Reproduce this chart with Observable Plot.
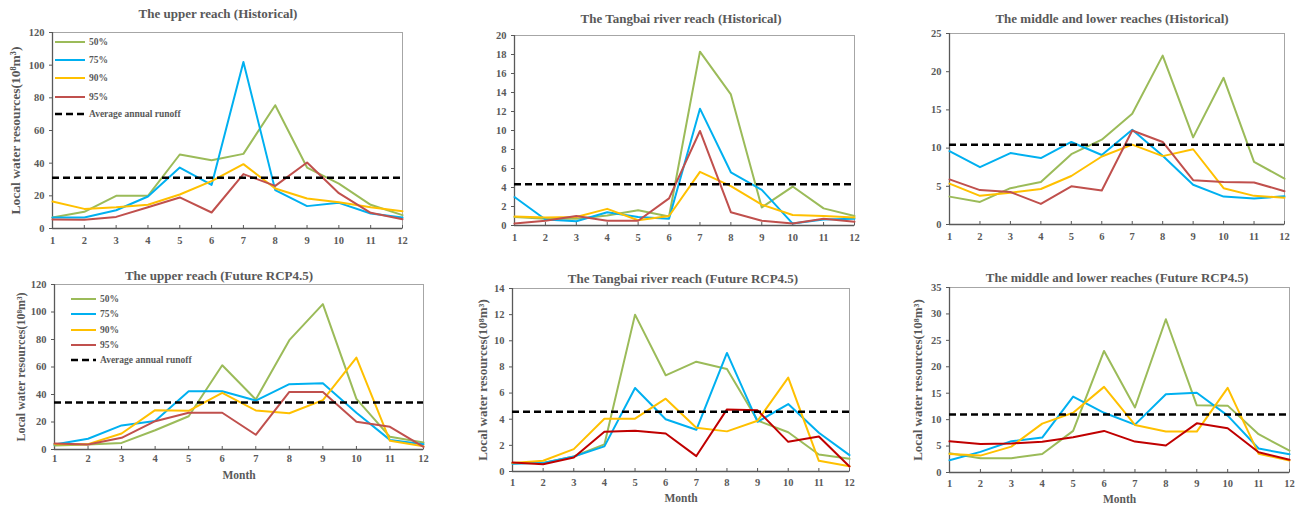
<!DOCTYPE html>
<html><head><meta charset="utf-8">
<script src="https://cdn.jsdelivr.net/npm/d3@7"></script>
<script src="https://cdn.jsdelivr.net/npm/@observablehq/plot@0.6"></script>
<style>
body{margin:0;background:#fff;}
#root{position:relative;width:1304px;height:508px;overflow:hidden;font-family:"Liberation Serif","Times New Roman",serif;font-weight:bold;color:#595959;background:#fff;}
.box{position:absolute;}
.box svg{max-width:none !important;}
.title{position:absolute;font-size:13px;white-space:nowrap;transform:translate(-50%,-50%);}
.lg{position:absolute;font-size:9.5px;white-space:nowrap;display:flex;align-items:center;transform:translateY(-50%);}
.lg svg{margin-right:4px;}
</style>
</head><body><div id="root"></div>
<script>
const months = [1,2,3,4,5,6,7,8,9,10,11,12];
const seriesNames = ["50%","75%","90%","95%"];
const avgName = "Average annual runoff";
const yLabel = "Local water resources(10⁸m³)";
const xLabel = "Month";

// The upper reach (Historical)
const uh50 = [6.7,10.2,20,20,45.3,41.8,45.7,75.5,37.3,27.5,14.5,8.2];
const uh75 = [6.7,6.7,11.2,19.6,37.3,26.7,102,23.5,13.7,15.7,9.2,6.7];
const uh90 = [16.5,12,13,14.5,20.8,29,39.4,24.5,18.4,16.1,13,10.6];
const uh95 = [5.5,5.3,7.1,13,19,9.8,33.3,26.1,40.4,21.6,9.6,5.7];
const uhAvg = 31;
// The Tangbai river reach (Historical)
const th50 = [0.9,0.7,0.7,1.05,1.6,0.95,18.3,13.8,1.9,4.1,1.8,1.0];
const th75 = [3.0,0.63,0.45,1.4,0.9,0.7,12.3,5.6,3.75,0.2,0.63,0.7];
const th90 = [0.95,0.85,0.9,1.75,0.55,1.0,5.65,4.15,2.2,1.1,1.0,0.85];
const th95 = [0.2,0.5,1.0,0.5,0.5,2.85,9.95,1.4,0.5,0.2,0.7,0.4];
const thAvg = 4.35;
// The middle and lower reaches (Historical)
const mh50 = [3.65,2.95,4.75,5.55,9.2,11.1,14.5,22.1,11.4,19.2,8.2,6.0];
const mh75 = [9.6,7.5,9.35,8.7,10.8,9.1,12.4,9.0,5.2,3.65,3.4,3.7];
const mh90 = [5.35,3.75,4.15,4.65,6.35,8.9,10.45,8.95,9.85,4.75,3.75,3.5];
const mh95 = [5.9,4.5,4.25,2.7,5.0,4.45,12.3,10.8,5.8,5.55,5.5,4.35];
const mhAvg = 10.45;
// The upper reach (Future RCP4.5)
const uf50 = [2.9,3.6,4.8,14,24.2,61.3,36.4,79.5,105.7,36.8,9.2,5.1];
const uf75 = [3.6,7.8,17.5,20.8,42.4,42.4,35.6,47.5,48.2,26.7,7,3.9];
const uf90 = [3.9,3.9,11.6,28.6,28.1,41.2,28.4,26.4,35.9,66.9,6.3,2.4];
const uf95 = [4.4,3.6,8.5,20.6,26.7,26.7,10.7,41.9,41.9,20.1,16.5,1.9];
const ufAvg = 34.2;
// The Tangbai river reach (Future RCP4.5)
const tf50 = [0.64,0.66,1.15,2.07,12.0,7.36,8.4,7.84,3.9,3.0,1.3,0.97];
const tf75 = [0.59,0.66,1.15,1.92,6.39,4.0,3.19,9.07,3.8,5.16,2.96,1.25];
const tf90 = [0.66,0.82,1.71,4.04,4.04,5.57,3.35,3.07,3.88,7.18,0.82,0.41];
const tf95 = [0.69,0.56,1.07,3.04,3.12,2.91,1.18,4.75,4.68,2.27,2.68,0.38];
const tfAvg = 4.57;
// The middle and lower reaches (Future RCP4.5)
const mf50 = [3.65,2.7,2.7,3.5,7.87,23.0,12.3,29.0,12.7,12.65,7.24,4.15];
const mf75 = [2.33,3.9,5.9,6.6,14.35,11.3,9.06,14.8,15.1,10.76,4.53,3.46];
const mf90 = [3.52,3.2,4.9,9.25,11.3,16.2,9.0,7.74,7.74,16.0,3.52,2.27];
const mf95 = [5.9,5.4,5.5,5.8,6.67,7.87,5.85,5.1,9.3,8.37,3.84,2.4];
const mfAvg = 10.95;

const C50 = "#9BBB59", C75 = "#00B0F0", C90 = "#FFC000", C95 = "#C0504D", C95b = "#C00000";

const panels = [
  {title:"The upper reach (Historical)", tx:218, ty:14, x0:52, x1:402, y0:32, y1:228, ymax:120, yt:d3.range(0,121,20), s:[uh50,uh75,uh90,uh95], avg:uhAvg, c95:C95, ylab:37, yfs:13.5, tp:8, month:false, legend:{lx0:55, lx1:85, tx:89, rows:[42,60,78,97,114]}},
  {title:"The Tangbai river reach (Historical)", tx:681, ty:19, x0:514, x1:854, y0:35, y1:225, ymax:20, yt:d3.range(0,21,2), s:[th50,th75,th90,th95], avg:thAvg, c95:C95, ylab:null, tp:8, month:false},
  {title:"The middle and lower reaches (Historical)", tx:1112, ty:19, x0:949, x1:1284, y0:33, y1:224, ymax:25, yt:d3.range(0,26,5), s:[mh50,mh75,mh90,mh95], avg:mhAvg, c95:C95, ylab:null, tp:8, month:false},
  {title:"The upper reach (Future RCP4.5)", tx:219, ty:276, x0:54, x1:423, y0:284, y1:449, ymax:120, yt:d3.range(0,121,20), s:[uf50,uf75,uf90,uf95], avg:ufAvg, c95:C95, ylab:33, yfs:12, tp:5, month:26, legend:{lx0:71, lx1:97, tx:100, rows:[299,314,330,345,360]}},
  {title:"The Tangbai river reach (Future RCP4.5)", tx:683, ty:279, x0:512, x1:849, y0:288, y1:471, ymax:14, yt:d3.range(0,15,2), s:[tf50,tf75,tf90,tf95], avg:tfAvg, c95:C95b, ylab:30, yfs:13, tp:7, month:27},
  {title:"The middle and lower reaches (Future RCP4.5)", tx:1117, ty:278, x0:949, x1:1289, y0:287, y1:472, ymax:35, yt:d3.range(0,36,5), s:[mf50,mf75,mf90,mf95], avg:mfAvg, c95:C95b, ylab:32, yfs:13, tp:7, month:27}
];

const root = document.getElementById("root");
const ml=50, mr=12, mt=10, mb=36;

for (const p of panels) {
  const w = p.x1 - p.x0 + ml + mr, h = p.y1 - p.y0 + mt + mb;
  const ph = p.y1 - p.y0;
  const colors = [C50, C75, C90, p.c95];
  const marks = [
    Plot.frame({stroke:"#a6a6a6", strokeWidth:1}),
    Plot.axisY({ticks:p.yt, tickSize:3, tickPadding:5, label:null, fontSize:10.5}),
    Plot.axisX({ticks:months, tickSize:0, tickPadding:p.tp, label:null, fontSize:10.5, tickFormat:d=>String(d)}),
    Plot.tickX(months, {x:d=>d, insetTop:ph-3, stroke:"#595959"}),
    Plot.ruleX([1], {stroke:"#595959", strokeWidth:1.3}),
    Plot.ruleY([0], {stroke:"#595959", strokeWidth:1.3})
  ];
  p.s.forEach((vals, i) => {
    marks.push(Plot.line(months.map((m, j) => ({m, v: vals[j]})), {x:"m", y:"v", stroke:colors[i], strokeWidth:2}));
  });
  marks.push(Plot.ruleY([p.avg], {stroke:"#000", strokeWidth:2.5, strokeDasharray:"7,4"}));
  if (p.ylab) marks.push(Plot.text([yLabel], {frameAnchor:"left", textAnchor:"middle", lineAnchor:"middle", dx:-p.ylab, rotate:-90, text:d=>d, fontSize:p.yfs, fill:"#595959"}));
  if (p.month) marks.push(Plot.text([xLabel], {frameAnchor:"bottom", textAnchor:"middle", lineAnchor:"middle", dy:p.month, text:d=>d, fontSize:11.5, fill:"#595959"}));

  const svg = Plot.plot({
    width:w, height:h, marginLeft:ml, marginRight:mr, marginTop:mt, marginBottom:mb,
    x:{domain:[1,12]}, y:{domain:[0,p.ymax]},
    style:{fontFamily:'"Liberation Serif","Times New Roman",serif', fontWeight:"bold", fontSize:"10px", color:"#595959", background:"transparent", overflow:"visible"},
    marks
  });
  const box = document.createElement("div");
  box.className = "box";
  box.style.left = (p.x0 - ml) + "px";
  box.style.top = (p.y0 - mt) + "px";
  box.style.width = w + "px";
  box.style.height = h + "px";
  box.appendChild(svg);
  root.appendChild(box);
}

for (const p of panels) {
  const t = document.createElement("div");
  t.className = "title";
  t.style.left = p.tx + "px";
  t.style.top = p.ty + "px";
  t.textContent = p.title;
  root.appendChild(t);
  if (p.legend) {
    const L = p.legend;
    const items = seriesNames.map((n, i) => ({n, c:[C50, C75, C90, p.c95][i], dash:null}))
      .concat([{n:avgName, c:"#000", dash:"7,4"}]);
    items.forEach((it, i) => {
      const d = document.createElement("div");
      d.className = "lg";
      d.style.left = L.lx0 + "px";
      d.style.top = L.rows[i] + "px";
      const sw = L.tx - L.lx0 - 4;
      const len = L.lx1 - L.lx0;
      d.innerHTML = `<svg width="${sw}" height="6"><line x1="0" x2="${len}" y1="3" y2="3" stroke="${it.c}" stroke-width="${it.dash ? 2.5 : 2}" ${it.dash ? `stroke-dasharray="${it.dash}"` : ""}/></svg><span>${it.n}</span>`;
      root.appendChild(d);
    });
  }
}
</script>
</body></html>
